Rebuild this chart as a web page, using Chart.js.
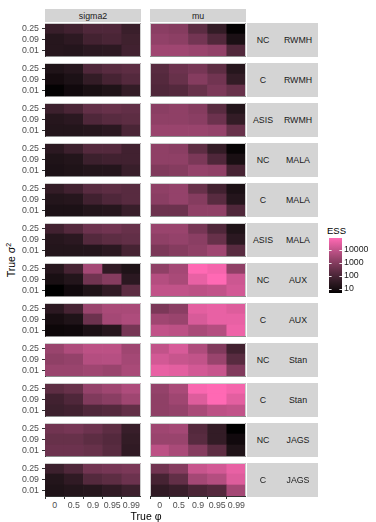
<!DOCTYPE html>
<html>
<head>
<meta charset="utf-8">
<title>ESS by sampler, parameterisation and true parameter values</title>
<script src="https://cdn.jsdelivr.net/npm/chart.js@4.4.1/dist/chart.umd.min.js"></script>
<style>
  html, body { margin: 0; padding: 0; background: #ffffff; }
  #figure { position: relative; width: 376px; height: 522px; overflow: hidden;
            font-family: "Liberation Sans", Arial, Helvetica, sans-serif; }
  #figure canvas { position: absolute; }
  .strip { position: absolute; background: #d4d4d4; color: #1a1a1a; font-size: 8.8px; }
  .strip span { position: absolute; top: 50%; transform: translate(-50%, -50%); white-space: nowrap; }
  .label { position: absolute; color: #000000; white-space: nowrap; }
  .tick { position: absolute; color: #4d4d4d; font-size: 8.8px; line-height: 11px; text-align: center; white-space: nowrap; }
</style>
</head>
<body>
<div id="figure"></div>
<script>
// ---- data -------------------------------------------------------------
const trueSigma2 = ['0.25', '0.09', '0.01'];          // panel rows, top to bottom
const truePhi = ['0', '0.5', '0.9', '0.95', '0.99'];  // panel columns
const parameters = ['sigma2', 'mu'];
const parameterisations = ['NC', 'C', 'ASIS', 'NC', 'C', 'ASIS', 'NC', 'C', 'NC', 'C', 'NC', 'C'];
const samplers = ['RWMH', 'RWMH', 'RWMH', 'MALA', 'MALA', 'MALA', 'AUX', 'AUX', 'Stan', 'Stan', 'JAGS', 'JAGS'];
const essTicks = [10, 100, 1000, 10000];

// effective sample sizes; rows = true sigma^2 (0.25, 0.09, 0.01), columns = true phi
const ncRwmhSigma2   = [[47, 68, 122, 122, 51], [21, 29, 75, 100, 62], [21, 19, 26, 29, 68]];
const ncRwmhMu       = [[1240, 1030, 200, 38, 5.5], [1660, 1370, 520, 134, 12], [2690, 2690, 2220, 1660, 134]];
const cRwmhSigma2    = [[15, 21, 122, 180, 218], [9, 13, 38, 83, 148], [5.5, 8, 11, 15, 38]];
const cRwmhMu        = [[180, 390, 574, 218, 21], [148, 322, 1030, 472, 38], [122, 148, 322, 697, 322]];
const asisRwmhSigma2 = [[56, 100, 265, 322, 265], [21, 26, 122, 180, 218], [18, 18, 21, 26, 100]];
const asisRwmhMu     = [[1240, 1510, 1030, 180, 18], [1510, 1510, 1240, 390, 38], [2220, 2220, 2220, 1830, 322]];
const ncMalaSigma2   = [[26, 56, 148, 148, 68], [15, 18, 56, 68, 68], [13, 15, 18, 19, 47]];
const ncMalaMu       = [[1510, 1240, 218, 38, 6], [1510, 1510, 697, 122, 11], [845, 1030, 1830, 1510, 83]];
const cMalaSigma2    = [[38, 68, 180, 218, 180], [18, 21, 68, 122, 180], [13, 13, 18, 21, 47]];
const cMalaMu        = [[1510, 1830, 322, 68, 12], [1240, 1830, 1030, 180, 19], [390, 390, 1510, 1510, 122]];
const asisMalaSigma2 = [[68, 148, 390, 472, 322], [21, 26, 148, 218, 265], [18, 18, 19, 26, 83]];
const asisMalaMu     = [[2220, 2220, 574, 122, 15], [1510, 1830, 1240, 322, 26], [697, 1030, 1510, 2690, 180]];
const ncAuxSigma2    = [[21, 83, 3260, 32, 15], [11, 18, 472, 1030, 26], [5, 8, 15, 32, 218]];
const ncAuxMu        = [[1510, 3260, 79400, 53900, 1510], [5800, 3960, 36600, 79400, 13900], [9500, 9500, 7800, 9500, 16900]];
const cAuxSigma2     = [[26, 83, 2220, 3960, 3960], [10, 15, 390, 3260, 4800], [7, 7.4, 12, 21, 574]];
const cAuxMu         = [[697, 1240, 30200, 36600, 24900], [2690, 2220, 20500, 36600, 36600], [9500, 7800, 3960, 5800, 44400]];
const ncStanSigma2   = [[2220, 4800, 7800, 7800, 2690], [1510, 1830, 5800, 6400, 3260], [2220, 2220, 2690, 2220, 3960]];
const ncStanMu       = [[9500, 20500, 4800, 845, 68], [16900, 11500, 9500, 2220, 180], [36600, 30200, 16900, 11500, 845]];
const cStanSigma2    = [[218, 322, 1830, 2690, 4800], [68, 122, 845, 1240, 2690], [56, 68, 122, 148, 265]];
const cStanMu        = [[1830, 3960, 65300, 79400, 53900], [1510, 2690, 24900, 79400, 30200], [1510, 1830, 3960, 7800, 9500]];
const ncJagsSigma2   = [[472, 574, 390, 218, 47], [322, 322, 218, 148, 38], [390, 390, 322, 180, 32]];
const ncJagsMu       = [[2690, 3260, 148, 38, 5], [2220, 2220, 180, 38, 8], [7800, 3960, 1030, 218, 15]];
const cJagsSigma2    = [[56, 122, 472, 574, 697], [18, 32, 148, 218, 390], [15, 18, 21, 32, 56]];
const cJagsMu        = [[472, 1030, 11500, 16900, 36600], [83, 265, 3260, 5800, 24900], [32, 47, 100, 148, 3260]];

// one entry per facet row: [sigma2 panel, mu panel]
const essTable = [
  [ncRwmhSigma2, ncRwmhMu], [cRwmhSigma2, cRwmhMu], [asisRwmhSigma2, asisRwmhMu],
  [ncMalaSigma2, ncMalaMu], [cMalaSigma2, cMalaMu], [asisMalaSigma2, asisMalaMu],
  [ncAuxSigma2, ncAuxMu], [cAuxSigma2, cAuxMu],
  [ncStanSigma2, ncStanMu], [cStanSigma2, cStanMu],
  [ncJagsSigma2, ncJagsMu], [cJagsSigma2, cJagsMu]
];

// ---- colour scale: black -> hot pink, interpolated in CIE Lab on log10(ESS) ----
const allEss = essTable.flat(3);
const essMin = Math.min(...allEss);
const essMax = Math.max(...allEss);

const WHITE = [0.95047, 1.0, 1.08883];
function toLinear(c) { c /= 255; return c <= 0.04045 ? c / 12.92 : Math.pow((c + 0.055) / 1.055, 2.4); }
function toSrgb(c) { c = Math.max(0, Math.min(1, c)); return 255 * (c <= 0.0031308 ? 12.92 * c : 1.055 * Math.pow(c, 1 / 2.4) - 0.055); }
function rgbToLab(rgb) {
  const [R, G, B] = rgb.map(toLinear);
  const X = 0.4124564 * R + 0.3575761 * G + 0.1804375 * B;
  const Y = 0.2126729 * R + 0.7151522 * G + 0.0721750 * B;
  const Z = 0.0193339 * R + 0.1191920 * G + 0.9503041 * B;
  const f = t => t > 216 / 24389 ? Math.cbrt(t) : (24389 / 27 * t + 16) / 116;
  const fx = f(X / WHITE[0]), fy = f(Y / WHITE[1]), fz = f(Z / WHITE[2]);
  return [116 * fy - 16, 500 * (fx - fy), 200 * (fy - fz)];
}
function labToRgb(lab) {
  const [L, a, b] = lab;
  const fy = (L + 16) / 116, fx = fy + a / 500, fz = fy - b / 200;
  const inv = t => (t * t * t > 216 / 24389) ? t * t * t : (116 * t - 16) / (24389 / 27);
  const X = inv(fx) * WHITE[0], Y = inv(fy) * WHITE[1], Z = inv(fz) * WHITE[2];
  const R = 3.2404542 * X - 1.5371385 * Y - 0.4985314 * Z;
  const G = -0.9692660 * X + 1.8760108 * Y + 0.0415560 * Z;
  const B = 0.0556434 * X - 0.2040259 * Y + 1.0572252 * Z;
  return [R, G, B].map(toSrgb).map(Math.round);
}
const labLow = rgbToLab([0, 0, 0]);
const labHigh = rgbToLab([255, 105, 180]);
function rampColour(t) {
  t = Math.max(0, Math.min(1, t));
  const lab = labLow.map((v, i) => v + (labHigh[i] - v) * t);
  const [r, g, b] = labToRgb(lab);
  return `rgb(${r},${g},${b})`;
}
function essColour(v) {
  const lo = Math.log10(essMin), hi = Math.log10(essMax);
  return rampColour((Math.log10(v) - lo) / (hi - lo));
}

// ---- layout -------------------------------------------------------------
const FONT = '"Liberation Sans", Arial, Helvetica, sans-serif';
const ROW_TOP = 23, ROW_PITCH = 40, PANEL_H = 33;
const Y_AXIS_W = 27, PANEL_W = 96, X_TICK_H = 4;
const COL_LEFT = [18, 150];         // canvas left for each column
const PANEL_LEFT = [45, 150];       // plotting-area left for each column
const STRIP_LEFT = 247, STRIP_W = 71;

Chart.defaults.font.family = FONT;

const fig = document.getElementById('figure');
function addCanvas(left, top, w, h) {
  const c = document.createElement('canvas');
  c.width = w; c.height = h;
  c.style.left = left + 'px'; c.style.top = top + 'px';
  c.style.width = w + 'px'; c.style.height = h + 'px';
  fig.appendChild(c);
  return c;
}
function addDiv(cls, left, top, w, h, html, extra) {
  const d = document.createElement('div');
  d.className = cls;
  d.style.left = left + 'px'; d.style.top = top + 'px';
  if (w != null) d.style.width = w + 'px';
  if (h != null) d.style.height = h + 'px';
  if (html != null) d.innerHTML = html;
  if (extra) Object.assign(d.style, extra);
  fig.appendChild(d);
  return d;
}

// light panel outline (top, right and, for inner panels, left edge)
const panelFrame = {
  id: 'panelFrame',
  afterDraw(chart, args, opts) {
    const { ctx, chartArea: a } = chart;
    ctx.save();
    ctx.strokeStyle = '#cdcdcd';
    ctx.lineWidth = 1;
    ctx.beginPath();
    ctx.moveTo(a.left, a.top + 0.5);
    ctx.lineTo(a.right - 0.5, a.top + 0.5);
    ctx.lineTo(a.right - 0.5, a.bottom);
    if (opts.leftEdge) {
      ctx.moveTo(a.left + 0.5, a.top);
      ctx.lineTo(a.left + 0.5, a.bottom);
    }
    ctx.stroke();
    ctx.restore();
  }
};

// keep the plotting area fixed: no label overhang padding
function noOverhang(s) {
  s.paddingTop = 0; s.paddingBottom = 0; s.paddingLeft = 0; s.paddingRight = 0;
}

function drawPanel(canvas, ess, showY, showX) {
  // one stacked unit-height bar per true sigma^2 row; first dataset sits at the bottom
  const datasets = trueSigma2.map((s, r) => ({
    label: s,
    data: truePhi.map(() => 1),
    backgroundColor: ess[r].map(essColour),
    borderWidth: 0,
    barPercentage: 1,
    categoryPercentage: 1
  })).reverse();

  return new Chart(canvas, {
    type: 'bar',
    data: { labels: truePhi, datasets },
    options: {
      responsive: false,
      animation: false,
      devicePixelRatio: 1,
      events: [],
      layout: { padding: 0, autoPadding: false },
      plugins: {
        legend: { display: false },
        tooltip: { enabled: false },
        panelFrame: { leftEdge: !showY }
      },
      scales: {
        x: {
          stacked: true,
          offset: true,
          z: 1,
          grid: { drawOnChartArea: false, drawTicks: showX, tickLength: 3, color: '#333333' },
          border: { display: true, color: showX ? '#333333' : '#8c8c8c', width: 1 },
          ticks: { display: false, autoSkip: false, minRotation: 0, maxRotation: 0 },
          afterFit: s => { s.height = showX ? X_TICK_H : 1; noOverhang(s); }
        },
        y: {
          stacked: true,
          min: 0,
          max: 3,
          display: showY,
          z: 1,
          afterBuildTicks: s => { s.ticks = [0.5, 1.5, 2.5].map(value => ({ value })); },
          grid: { drawOnChartArea: false, drawTicks: true, tickLength: 3, color: '#333333' },
          border: { display: true, color: '#333333', width: 1 },
          ticks: {
            padding: 3, color: '#4d4d4d', autoSkip: false,
            font: { size: 8.8, family: FONT },
            callback: v => trueSigma2[2 - Math.floor(v)]
          },
          afterFit: s => { s.width = showY ? Y_AXIS_W : 0; noOverhang(s); }
        }
      }
    },
    plugins: [panelFrame]
  });
}

// ---- panels ---------------------------------------------------------------
const nRows = essTable.length;
essTable.forEach((rowPanels, i) => {
  const top = ROW_TOP + ROW_PITCH * i;
  const bottomRow = i === nRows - 1;
  const h = PANEL_H + (bottomRow ? X_TICK_H : 1);
  rowPanels.forEach((ess, j) => {
    const showY = j === 0;
    const w = showY ? Y_AXIS_W + PANEL_W : PANEL_W;
    const chart = drawPanel(addCanvas(COL_LEFT[j], top, w, h), ess, showY, bottomRow);
    if (bottomRow) {
      // true phi labels under the bottom panels, centred on the x scale's tick positions
      const xs = chart.scales.x;
      truePhi.forEach((lab, k) => {
        const px = COL_LEFT[j] + xs.getPixelForTick(k);
        addDiv('tick', px - 15, top + h, 30, 11, lab);
      });
    }
  });
  // facet strip on the right: parameterisation and sampler
  const strip = addDiv('strip', STRIP_LEFT, top, STRIP_W, PANEL_H + 1, null);
  const a = document.createElement('span'); a.style.left = '16px'; a.textContent = parameterisations[i];
  const b = document.createElement('span'); b.style.left = '51px'; b.textContent = samplers[i];
  strip.appendChild(a); strip.appendChild(b);
});

// column strips
parameters.forEach((p, j) => {
  const strip = addDiv('strip', PANEL_LEFT[j], 9, PANEL_W, 13, null);
  const s = document.createElement('span'); s.style.left = '50%'; s.textContent = p;
  strip.appendChild(s);
});

// axis titles
addDiv('label', 96, 510, 100, 12, 'True \u03C6',
  { fontSize: '10.5px', lineHeight: '12px', textAlign: 'center' });
addDiv('label', 11, 260, null, null, 'True \u03C3<sup style="font-size:7px;vertical-align:4px;">2</sup>',
  { fontSize: '10.5px', transform: 'translate(-50%, -50%) rotate(-90deg)' });

// ---- colour bar legend -----------------------------------------------------
addDiv('label', 327, 225, null, 12, 'ESS', { fontSize: '9.5px', lineHeight: '12px' });

const barTicks = {
  id: 'barTicks',
  afterDatasetsDraw(chart) {
    const { ctx, chartArea: a, scales } = chart;
    const len = (a.right - a.left) / 5;
    ctx.save();
    ctx.strokeStyle = 'rgba(255,255,255,0.9)';
    ctx.lineWidth = 1;
    essTicks.forEach(v => {
      const y = Math.round(scales.y.getPixelForValue(v)) + 0.5;
      ctx.beginPath();
      ctx.moveTo(a.left, y); ctx.lineTo(a.left + len, y);
      ctx.moveTo(a.right - len, y); ctx.lineTo(a.right, y);
      ctx.stroke();
    });
    ctx.restore();
  }
};

new Chart(addCanvas(329, 238, 47, 55), {
  type: 'bar',
  data: {
    labels: ['ESS'],
    datasets: [{
      data: [[essMin, essMax]],
      borderWidth: 0,
      barPercentage: 1,
      categoryPercentage: 1,
      inflateAmount: 0,
      backgroundColor: c => {
        const area = c.chart.chartArea;
        if (!area) return '#000';
        const g = c.chart.ctx.createLinearGradient(0, area.bottom, 0, area.top);
        for (let k = 0; k <= 20; k++) g.addColorStop(k / 20, rampColour(k / 20));
        return g;
      }
    }]
  },
  options: {
    responsive: false,
    animation: false,
    devicePixelRatio: 1,
    events: [],
    layout: { padding: 0, autoPadding: false },
    plugins: { legend: { display: false }, tooltip: { enabled: false } },
    scales: {
      x: { display: false, offset: true },
      y: {
        type: 'logarithmic',
        position: 'right',
        min: essMin,
        max: essMax,
        afterBuildTicks: s => { s.ticks = essTicks.map(value => ({ value })); },
        grid: { display: false, drawTicks: false },
        border: { display: false },
        ticks: { padding: 2, color: '#1a1a1a', font: { size: 8.8, family: FONT }, callback: v => String(v) },
        afterFit: s => { s.width = 34; noOverhang(s); }
      }
    }
  },
  plugins: [barTicks]
});
</script>
</body>
</html>
